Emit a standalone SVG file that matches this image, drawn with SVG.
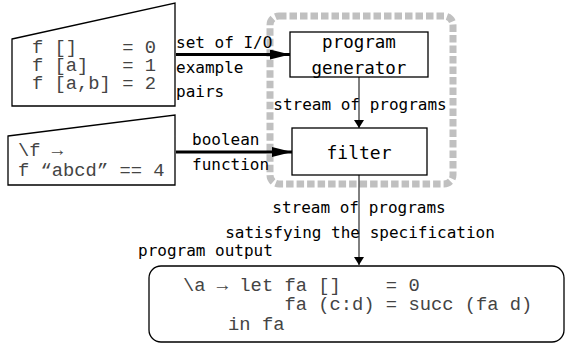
<svg xmlns="http://www.w3.org/2000/svg" width="565" height="344" viewBox="0 0 565 344">
<style>
.lbl{font-family:"DejaVu Sans Mono",monospace;font-size:16px;fill:#000}
.box{font-family:"DejaVu Sans Mono",monospace;font-size:17.5px;fill:#000}
.code{font-family:"Liberation Mono","Courier New",monospace;font-size:18.8px;fill:#444;white-space:pre}
.shape{fill:#fff;stroke:#000;stroke-width:1.3}
</style>
<defs>
<marker id="big" markerWidth="20" markerHeight="10" refX="20" refY="5" orient="auto" markerUnits="userSpaceOnUse"><path d="M0,0 L20,5 L0,10 z" fill="#000"/></marker>
<marker id="small" markerWidth="8" markerHeight="10" refX="8" refY="5" orient="auto" markerUnits="userSpaceOnUse"><path d="M0,0 L8,5 L0,10 z" fill="#000"/></marker>
</defs>
<rect x="270" y="16" width="183" height="168" rx="9" fill="none" stroke="#c0c0c0" stroke-width="7" stroke-dasharray="7.5 3"/>
<g id="examples">
<polygon class="shape" points="12,39 175,3 175,106 12,106"/>
<text class="code" xml:space="preserve" x="32" y="53">f []    = 0</text>
<text class="code" xml:space="preserve" x="32" y="71">f [a]   = 1</text>
<text class="code" xml:space="preserve" x="32" y="89">f [a,b] = 2</text>
</g>
<g id="spec">
<polygon class="shape" points="8,136 175,115 175,185 8,185"/>
<text class="code" xml:space="preserve" x="18" y="156">\f →</text>
<text class="code" xml:space="preserve" x="18" y="176">f “abcd” == 4</text>
</g>
<g id="generator">
<rect class="shape" x="290" y="32" width="138" height="45"/>
<text class="box" x="359" y="48" text-anchor="middle">program</text>
<text class="box" x="359" y="74" text-anchor="middle">generator</text>
</g>
<g id="filter">
<rect class="shape" x="292" y="128" width="135" height="47"/>
<text class="box" x="359" y="159" text-anchor="middle" style="font-size:18px">filter</text>
</g>
<g id="output">
<rect class="shape" x="149" y="266" width="415" height="76" rx="12"/>
<text class="code" xml:space="preserve" x="183" y="291">\a → let fa []    = 0</text>
<text class="code" xml:space="preserve" x="183" y="310">         fa (c:d) = succ (fa d)</text>
<text class="code" xml:space="preserve" x="183" y="330">    in fa</text>
</g>
<g id="connectors">
<line x1="176" y1="54.5" x2="290" y2="54.5" stroke="#000" stroke-width="3" marker-end="url(#big)"/>
<line x1="176" y1="152" x2="292" y2="152" stroke="#000" stroke-width="3" marker-end="url(#big)"/>
<line x1="359" y1="77" x2="359" y2="128" stroke="#000" stroke-width="1" marker-end="url(#small)"/>
<line x1="359" y1="175" x2="359" y2="265" stroke="#000" stroke-width="1" marker-end="url(#small)"/>
</g>
<g id="labels">
<text class="lbl" x="176" y="48">set of I/O</text>
<text class="lbl" x="176" y="73">example</text>
<text class="lbl" x="176" y="97">pairs</text>
<text class="lbl" x="192" y="145">boolean</text>
<text class="lbl" x="192" y="170">function</text>
<text class="lbl" x="360" y="110" text-anchor="middle">stream of programs</text>
<text class="lbl" x="359" y="213" text-anchor="middle">stream of programs</text>
<text class="lbl" x="360" y="238" text-anchor="middle">satisfying the specification</text>
<text class="lbl" x="138" y="256">program output</text>
</g>
</svg>
